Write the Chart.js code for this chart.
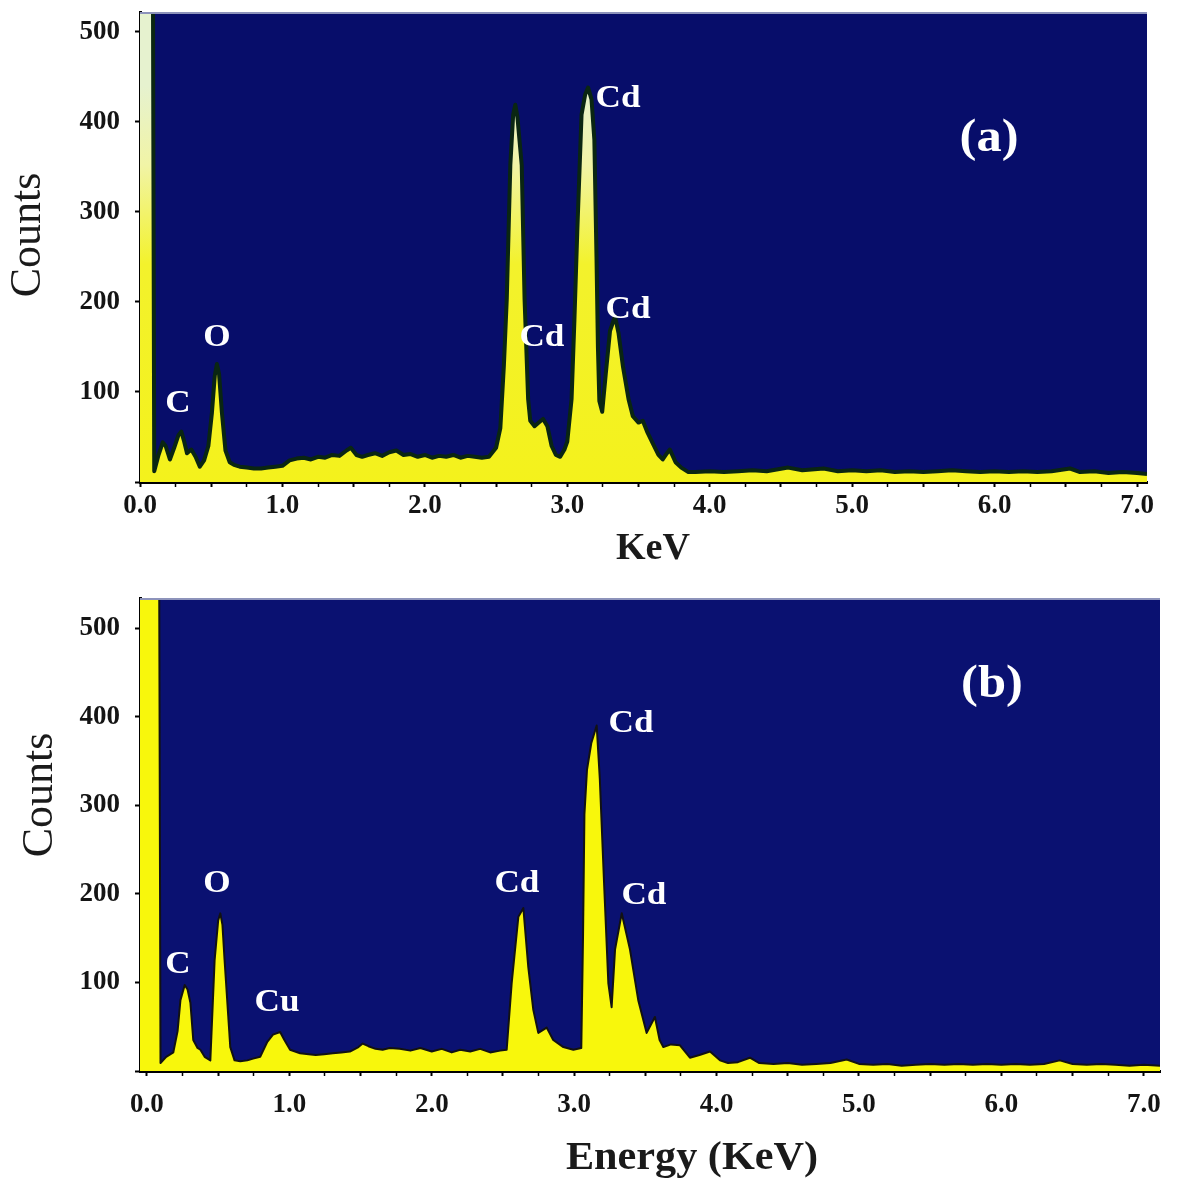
<!DOCTYPE html>
<html>
<head>
<meta charset="utf-8">
<script src="https://cdn.jsdelivr.net/npm/chart.js@4.4.1/dist/chart.umd.min.js"></script>
<style>
  html, body { margin: 0; padding: 0; background: #fff; }
  #wrap { position: relative; width: 1180px; height: 1179px; overflow: hidden; }
  .panel { position: absolute; left: 0; width: 1180px; }
  #pa { top: 0; height: 590px; }
  #pb { top: 590px; height: 589px; }
</style>
</head>
<body>
<div id="wrap">
  <div class="panel" id="pa"><canvas id="chartA" width="1180" height="590"></canvas></div>
  <div class="panel" id="pb"><canvas id="chartB" width="1180" height="589"></canvas></div>
</div>
<script>
// ---- Spectrum (a): energy (keV) and counts ----
const energyA = [
  0.00, 0.085, 0.10, 0.13, 0.16, 0.18, 0.21, 0.24, 0.27, 0.29, 0.31, 0.33, 0.36, 0.39, 0.42, 0.45,
  0.48, 0.505, 0.525, 0.54, 0.555, 0.575, 0.60, 0.63, 0.66, 0.70, 0.75, 0.80, 0.85, 0.90, 0.95, 1.00,
  1.05, 1.10, 1.15, 1.20, 1.25, 1.30, 1.35, 1.40, 1.45, 1.48, 1.52, 1.56, 1.60, 1.65, 1.70, 1.75,
  1.80, 1.85, 1.90, 1.95, 2.00, 2.05, 2.10, 2.15, 2.20, 2.25, 2.30, 2.35, 2.40, 2.45, 2.50, 2.53,
  2.555, 2.575, 2.60, 2.62, 2.635, 2.65, 2.68, 2.70, 2.725, 2.74, 2.77, 2.80, 2.83, 2.86, 2.89, 2.92,
  2.95, 2.98, 3.00, 3.03, 3.05, 3.07, 3.10, 3.125, 3.146, 3.17, 3.19, 3.205, 3.215, 3.225, 3.245, 3.27,
  3.30, 3.335, 3.36, 3.39, 3.43, 3.46, 3.50, 3.53, 3.56, 3.60, 3.64, 3.67, 3.70, 3.72, 3.76, 3.80,
  3.85, 3.90, 4.00, 4.10, 4.20, 4.30, 4.40, 4.55, 4.65, 4.80, 4.90, 5.00, 5.10, 5.20, 5.30, 5.40,
  5.50, 5.60, 5.70, 5.80, 5.90, 6.00, 6.10, 6.20, 6.30, 6.40, 6.53, 6.60, 6.70, 6.80, 6.90, 7.00, 7.07
];
const countsA = [
  900, 900, 12, 30, 44, 40, 25, 38, 52, 56, 45, 32, 36, 28, 17, 24,
  40, 77, 118, 131, 120, 77, 35, 22, 19, 17, 16, 15, 15, 16, 17, 18,
  24, 26, 27, 25, 28, 27, 30, 29, 35, 38, 30, 28, 30, 32, 29, 33,
  35, 30, 31, 28, 30, 27, 29, 28, 30, 27, 29, 28, 27, 28, 38, 60,
  130, 203, 352, 408, 419, 405, 352, 203, 92, 68, 62, 66, 70, 62, 40, 30,
  28, 36, 45, 92, 180, 278, 408, 430, 438, 425, 380, 250, 150, 90, 78, 120,
  168, 184, 165, 129, 92, 73, 66, 68, 56, 43, 30, 25, 32, 36, 22, 16,
  11, 11, 12, 11, 12, 13, 12, 16, 13, 15, 12, 13, 12, 13, 11, 12,
  11, 12, 13, 12, 11, 12, 11, 12, 11, 12, 15, 11, 12, 10, 11, 10, 9
];

// ---- Spectrum (b): energy (keV) and counts ----
const energyB = [
  -0.05, 0.08, 0.095, 0.135, 0.185, 0.215, 0.235, 0.265, 0.285, 0.305, 0.325, 0.355, 0.375, 0.405, 0.445, 0.475,
  0.50, 0.515, 0.53, 0.545, 0.585, 0.615, 0.655, 0.705, 0.745, 0.795, 0.845, 0.885, 0.935, 0.965, 1.005, 1.075,
  1.135, 1.185, 1.245, 1.305, 1.365, 1.425, 1.485, 1.515, 1.555, 1.605, 1.655, 1.705, 1.775, 1.85, 1.92, 2.00,
  2.07, 2.14, 2.20, 2.27, 2.34, 2.41, 2.48, 2.526, 2.561, 2.608, 2.643, 2.678, 2.713, 2.748, 2.807, 2.853,
  2.924, 2.994, 3.05, 3.062, 3.072, 3.09, 3.12, 3.158, 3.18, 3.21, 3.24, 3.263, 3.287, 3.334, 3.392, 3.45,
  3.509, 3.567, 3.60, 3.626, 3.68, 3.743, 3.813, 3.88, 3.954, 4.024, 4.08, 4.15, 4.234, 4.30, 4.40, 4.50,
  4.60, 4.70, 4.80, 4.914, 5.00, 5.10, 5.20, 5.30, 5.40, 5.50, 5.60, 5.70, 5.80, 5.90, 6.00, 6.10,
  6.20, 6.30, 6.41, 6.50, 6.60, 6.70, 6.80, 6.90, 7.00, 7.12
];
const countsB = [
  900, 900, 9, 16, 21, 45, 80, 97, 92, 77, 35, 26, 24, 16, 12, 125,
  170, 178, 165, 125, 27, 12, 11, 12, 14, 16, 33, 41, 44, 35, 24, 20,
  19, 18, 19, 20, 21, 22, 27, 31, 28, 25, 24, 26, 25, 23, 26, 22,
  25, 21, 24, 22, 25, 21, 23, 24, 99, 174, 184, 117, 69, 43, 49, 35,
  27, 24, 26, 150, 290, 340, 370, 390, 330, 212, 99, 72, 137, 178, 137, 80,
  43, 61, 35, 27, 30, 29, 15, 18, 22, 12, 9, 10, 15, 9, 8, 9,
  7, 8, 9, 13, 8, 7, 8, 6, 7, 8, 7, 8, 7, 8, 7, 8,
  7, 8, 12, 8, 7, 8, 7, 6, 7, 6
];

// Count axis tick values
const countTicks = [100, 200, 300, 400, 500];

// Element labels placed at (keV, counts)
const peakTextA = ['C', 'O', 'Cd', 'Cd', 'Cd'];
const peakKeVA = [0.267, 0.541, 2.822, 3.356, 3.426];
const peakCntA = [87, 160, 160, 426, 191];

const peakTextB = ['C', 'O', 'Cu', 'Cd', 'Cd', 'Cd'];
const peakKeVB = [0.218, 0.492, 0.913, 2.598, 3.399, 3.490];
const peakCntB = [120, 211, 77, 211, 392, 198];

const SERIF = "'Liberation Serif', 'Times New Roman', Times, serif";
const tickFont = { family: SERIF, size: 27, weight: 'bold' };

const toPoints = (xs, ys) => xs.map((x, i) => ({ x: x, y: ys[i] }));
const fmtKeV = v => (Math.abs(v - Math.round(v)) < 1e-6 ? Math.round(v).toFixed(1) : '');
const fmtCount = v => (countTicks.includes(v) ? String(v) : '');

function drawText(ctx, text, cx, cy, font, sx, rot) {
  ctx.save();
  ctx.translate(cx, cy);
  if (rot) ctx.rotate(rot);
  ctx.scale(sx || 1, 1);
  ctx.font = font;
  ctx.textAlign = 'center';
  ctx.textBaseline = 'middle';
  ctx.fillText(text, 0, 0);
  ctx.restore();
}

// Panel background, top edge, peak labels, panel tag and axis titles
const panelDecor = {
  id: 'panelDecor',
  beforeDraw(chart, args, o) {
    const { ctx, chartArea: a } = chart;
    ctx.save();
    ctx.fillStyle = o.bg;
    ctx.fillRect(a.left, a.top, a.right - a.left, a.bottom - a.top);
    ctx.restore();
  },
  afterDraw(chart, args, o) {
    const { ctx, chartArea: a, scales } = chart;
    const x = scales.x, y = scales.y;
    ctx.save();
    ctx.strokeStyle = o.edge;
    ctx.lineWidth = 2;
    ctx.beginPath();
    ctx.moveTo(a.left, a.top + 1);
    ctx.lineTo(a.right, a.top + 1);
    ctx.stroke();

    ctx.fillStyle = '#ffffff';
    o.peakText.forEach((t, i) => {
      drawText(ctx, t, x.getPixelForValue(o.peakKeV[i]), y.getPixelForValue(o.peakCnt[i]),
        'bold 32px ' + SERIF, 1.1);
    });
    drawText(ctx, o.tag, x.getPixelForValue(o.tagKeV), y.getPixelForValue(o.tagCnt), 'bold 46px ' + SERIF, 1.1);

    ctx.fillStyle = '#1a1a1a';
    drawText(ctx, 'Counts', o.yTitle[0], o.yTitle[1], '44px ' + SERIF, 1, -Math.PI / 2);
    drawText(ctx, o.xTitle, o.xTitlePos[0], o.xTitlePos[1], o.xTitleFont, 1.03);
    ctx.restore();
  }
};

function makeChart(id, p) {
  return new Chart(document.getElementById(id), {
    type: 'line',
    data: {
      datasets: [{
        data: toPoints(p.energy, p.counts),
        fill: 'origin',
        backgroundColor: p.fill,
        borderColor: p.line,
        borderWidth: p.lineWidth,
        borderJoinStyle: 'round',
        pointRadius: 0,
        tension: 0
      }]
    },
    options: {
      responsive: false,
      animation: false,
      devicePixelRatio: 1,
      layout: { padding: p.padding },
      plugins: {
        legend: { display: false },
        tooltip: { enabled: false },
        panelDecor: p.decor
      },
      scales: {
        x: {
          type: 'linear', min: p.xMin, max: p.xMax, z: 1,
          afterFit(s) { s.height = 108; s.paddingLeft = 0; s.paddingRight = 0; },
          border: { display: true, color: '#000', width: 3 },
          grid: {
            drawOnChartArea: false, drawTicks: true, tickLength: 5, tickColor: '#000',
            tickWidth: c => (Math.abs(c.tick.value * 2 - Math.round(c.tick.value * 2)) < 1e-6 ? 2 : 1.5)
          },
          ticks: {
            stepSize: 0.25, autoSkip: false, maxRotation: 0, minRotation: 0, includeBounds: false,
            padding: p.xPad, color: '#141414', font: tickFont, callback: fmtKeV
          }
        },
        y: {
          type: 'linear', min: 0, max: p.yMax, z: 1,
          afterFit(s) { s.width = 140; s.paddingTop = 0; s.paddingBottom = 0; },
          border: { display: true, color: '#000', width: 3 },
          grid: { drawOnChartArea: false, drawTicks: true, tickLength: 5, tickColor: '#000', tickWidth: 2 },
          ticks: {
            stepSize: 100, includeBounds: false, padding: 15,
            color: '#141414', font: tickFont, callback: fmtCount
          }
        }
      }
    },
    plugins: [panelDecor]
  });
}

// Yellow fill that pales toward the tips of the tall peaks
function fillA(c) {
  const chart = c.chart;
  if (!chart.chartArea) return '#f4f21c';
  const y = chart.scales.y;
  const g = chart.ctx.createLinearGradient(0, y.getPixelForValue(0), 0, y.getPixelForValue(440));
  g.addColorStop(0, '#f4f21c');
  g.addColorStop(0.55, '#f3f22c');
  g.addColorStop(0.8, '#f1f4a6');
  g.addColorStop(1, '#e6f2cf');
  return g;
}

makeChart('chartA', {
  energy: energyA, counts: countsA,
  fill: fillA, line: '#0a2612', lineWidth: 4,
  padding: { top: 12, right: 33, bottom: 0, left: 0 },
  xMin: 0, xMax: 7.07, yMax: 522, xPad: 3,
  decor: {
    bg: '#070d6a', edge: '#8d93bb',
    peakText: peakTextA, peakKeV: peakKeVA, peakCnt: peakCntA,
    tag: '(a)', tagKeV: 5.961, tagCnt: 381,
    yTitle: [28, 235],
    xTitle: 'KeV', xTitlePos: [653, 549], xTitleFont: 'bold 37px ' + SERIF
  }
});

makeChart('chartB', {
  energy: energyB, counts: countsB,
  fill: '#f8f70c', line: '#121212', lineWidth: 2,
  padding: { top: 8, right: 20, bottom: 0, left: 0 },
  xMin: -0.049, xMax: 7.114, yMax: 534, xPad: 13,
  decor: {
    bg: '#0a1171', edge: '#8d93bb',
    peakText: peakTextB, peakKeV: peakKeVB, peakCnt: peakCntB,
    tag: '(b)', tagKeV: 5.934, tagCnt: 436,
    yTitle: [40, 205],
    xTitle: 'Energy (KeV)', xTitlePos: [692, 568], xTitleFont: 'bold 41px ' + SERIF
  }
});
</script>
</body>
</html>
